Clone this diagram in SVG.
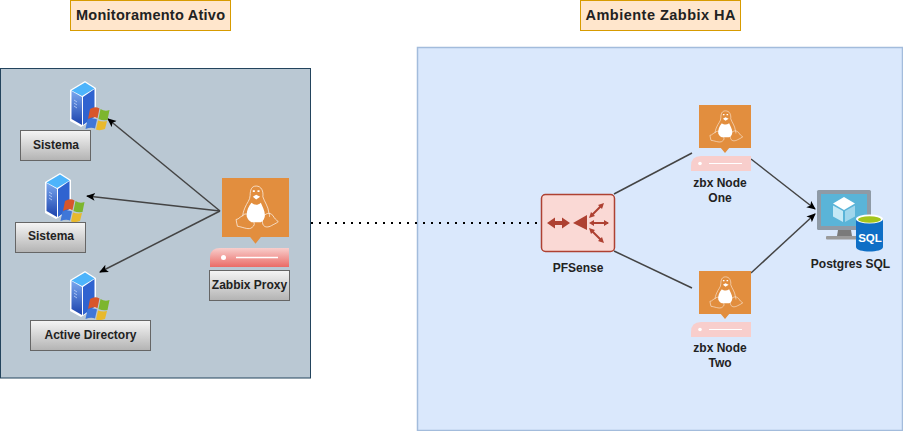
<svg xmlns="http://www.w3.org/2000/svg" xmlns:xlink="http://www.w3.org/1999/xlink" width="903" height="431" viewBox="0 0 903 431">
<style>
text{font-family:"Liberation Sans",Arial,sans-serif;font-weight:bold;font-size:12px;fill:#222;text-anchor:middle}
.title{font-size:14.500px}
.tbox{fill:#ffe6cc;stroke:#d79b00}
.btn{fill:url(#gBtn);stroke:#666}
.conn{fill:none;stroke:#444;stroke-width:1.500}
.arrow{marker-end:url(#arr)}
.tuxline{fill:none;stroke:#fff;stroke-width:1}
</style>
<defs>
<linearGradient id="gBtn" x1="0" y1="0" x2="0" y2="1"><stop offset="0" stop-color="#f5f5f5"/><stop offset="1" stop-color="#b3b3b3"/></linearGradient>
<linearGradient id="gRed" x1="0" y1="0" x2="0" y2="1"><stop offset="0" stop-color="#f8cecc"/><stop offset="1" stop-color="#ea6b66"/></linearGradient>
<linearGradient id="gSrv" x1="0" y1="0" x2="0" y2="1"><stop offset="0" stop-color="#7aa7ee"/><stop offset="1" stop-color="#1c43ad"/></linearGradient>
<marker id="arr" markerWidth="10" markerHeight="10" refX="8" refY="4" orient="auto" markerUnits="userSpaceOnUse"><path d="M0 0L9 4L0 8L2.200 4Z" fill="#000"/></marker>
<g id="srv">
<path d="M0 9L15 0L26 7V37L11 46L0 40Z" fill="#fff"/>
<path d="M1.500 10L12 16V44L1.500 38Z" fill="url(#gSrv)"/>
<path d="M13 16L24.500 8V36L13 44Z" fill="#2f63d0"/>
<path d="M1.500 9.500L15 1.500L24.500 7.500L12 15Z" fill="#4db4fb"/>
<path d="M4 19l3 2M4 22l3 2M4 25l3 2" stroke="#cfe0ff" stroke-width="0.700"/>
<path d="M20 28Q25 25 29.500 27.500L27.500 37Q23 35 18 38Z" fill="#d8562b"/>
<path d="M30.500 28Q35 31 39.500 29L37.500 39Q33 40 28.500 38Z" fill="#7db62e"/>
<path d="M17.500 38.500Q23 36 27 38.500L25 47.500Q21 46 15.500 48Z" fill="#3f77d8"/>
<path d="M28 39.500Q33 41 37 40L35 48Q30 50 26 48.500Z" fill="#e8b92c"/>
</g>
<g id="tux">
<path d="M0 0H100V88H58L50 98L42 88H0Z" fill="#e28e3e"/>
<path d="M51 12C44 12 42 18 42 26C42 33 37 37 34 45C32 50 31 54 31 57M61 28C62 20 59 12 51 12M61 28C63 35 69 42 70 52C71 55 71 57 71 58" class="tuxline"/>
<path d="M31 56C28 57 26 60 24 61L21 62C21 66 23 69 23 72C30 73 38 77 43 75C46 73 49 71 48 67C46 63 42 57 38 54C35 53 33 54 31 56Z" class="tuxline"/>
<path d="M62 58C60 62 60 66 61 69C63 74 69 74 74 71C77 69 81 68 84 65C81 63 78 60 76 56C73 53 70 52 68 53C65 54 63 55 62 58Z" class="tuxline"/>
<path d="M44 37C39 43 36 51 37 58C39 63 41 64 44 66H58C62 64 64 60 64 55C64 49 60 42 58 37C53 41 49 41 44 37Z" fill="#fff"/>
<path d="M46 28L51 32L57 28L51 25Z" fill="#fff"/>
<path d="M46 19.500h3M53 19.500h3" stroke="#fff" stroke-width="2.500"/>
</g>
</defs>

<g id="panel-left"><rect x="0.500" y="68.500" width="310" height="309.500" fill="#bac8d3" stroke="#23445d"/></g>
<g id="panel-right"><rect x="417.500" y="47.500" width="485" height="383" fill="#dae8fc" stroke="#a3bcdc" stroke-width="1.500"/></g>

<g id="title-left"><rect class="tbox" x="70.500" y="0.500" width="160" height="30"/><text class="title" x="150.500" y="20" textLength="149" lengthAdjust="spacing">Monitoramento Ativo</text></g>
<g id="title-right"><rect class="tbox" x="580.500" y="0.500" width="160" height="30"/><text class="title" x="660.500" y="20" textLength="150" lengthAdjust="spacing">Ambiente Zabbix HA</text></g>

<g id="connectors">
<path class="conn arrow" d="M220 211L108 119"/>
<path class="conn arrow" d="M220 211L87 196"/>
<path class="conn arrow" d="M220 211L100 272"/>
<path d="M311 223H541" fill="none" stroke="#000" stroke-width="2" stroke-dasharray="2 6"/>
<path class="conn" d="M614 194L692 153"/>
<path class="conn" d="M614 251L692 288"/>
<path class="conn arrow" d="M751 159L815 209"/>
<path class="conn arrow" d="M751 273L815 214"/>
</g>

<g id="server-1"><use xlink:href="#srv" href="#srv" x="70" y="81"/><rect class="btn" x="20.500" y="130.500" width="70" height="30"/><text x="56" y="149">Sistema</text></g>
<g id="server-2"><use xlink:href="#srv" href="#srv" x="45" y="173"/><rect class="btn" x="15.500" y="222.500" width="70" height="30"/><text x="51" y="240">Sistema</text></g>
<g id="server-3"><use xlink:href="#srv" href="#srv" x="70" y="271"/><rect class="btn" x="30.500" y="320.500" width="120" height="30"/><text x="90.500" y="339">Active Directory</text></g>

<g id="zabbix-proxy">
<use xlink:href="#tux" href="#tux" transform="translate(222 178) scale(.67)"/>
<path d="M210 267V258Q210 248 220 248H289V267Z" fill="url(#gRed)"/>
<circle cx="223.500" cy="257.500" r="2.500" fill="#fff"/><path d="M236 257.500H278" stroke="#fff" stroke-width="1.500"/>
<rect class="btn" x="209.500" y="270.500" width="80" height="30"/><text x="249.500" y="289">Zabbix Proxy</text>
</g>

<g id="pfsense">
<rect x="541.500" y="194.500" width="73" height="57" rx="4" fill="#fad9d5" stroke="#ae4132" stroke-width="1.500"/>
<path d="M547 223L555 217.500V221H562V217.500L570 223L562 228.500V225H555V228.500Z" fill="#ae4132"/>
<path d="M573 223L587 215V230Z" fill="#ae4132"/>
<path d="M592 215L602 205M592 223H608M592 231L602 241" stroke="#ae4132" stroke-width="2" fill="none"/>
<path d="M604 203L598 205L602 209ZM589 218L595 216L591 212ZM609 223L604 220V226ZM589 223L594 220V226ZM604 243L602 237L598 241ZM589 228L591 234L595 230Z" fill="#ae4132"/>
<text x="578" y="272">PFSense</text>
</g>

<g id="zbx-node-one">
<use xlink:href="#tux" href="#tux" transform="translate(699 105) scale(.52 .49)"/>
<path d="M691 171V166Q691 156 701 156H751V171Z" fill="#f8cecc"/>
<circle cx="700" cy="163.500" r="1.800" fill="#fff"/><path d="M709 163.500H742" stroke="#fff" stroke-width="1.200"/>
<text x="720" y="187">zbx Node</text><text x="720" y="202">One</text>
</g>

<g id="zbx-node-two">
<use xlink:href="#tux" href="#tux" transform="translate(699 271) scale(.52 .49)"/>
<path d="M691 337V332Q691 322 701 322H751V337Z" fill="#f8cecc"/>
<circle cx="700" cy="329.500" r="1.800" fill="#fff"/><path d="M709 329.500H742" stroke="#fff" stroke-width="1.200"/>
<text x="720" y="352">zbx Node</text><text x="720" y="367">Two</text>
</g>

<g id="postgres">
<rect x="817" y="190" width="54" height="40" rx="1.500" fill="#8e9aa6"/>
<rect x="821" y="194" width="46" height="32" fill="#5ab4d8"/>
<path d="M838 230H851L852 236H837Z" fill="#7a7a7a"/><rect x="826" y="236" width="36" height="3.500" rx="1" fill="#9a9a9a"/>
<path d="M844 197L855 203.500L844 210L833 203.500Z" fill="#fff"/>
<path d="M833 205.500L843 211V222L833 216.500Z" fill="#c5e9f6"/><path d="M845 211L855 205.500V216.500L845 222Z" fill="#a0d6ec"/>
<path d="M856 219V247C856 253 883 253 883 247V219Z" fill="#0f6fc6"/>
<ellipse cx="869.500" cy="219" rx="13.500" ry="4.500" fill="#fff"/><ellipse cx="869.500" cy="219.500" rx="11.500" ry="3.300" fill="#a4c51c"/>
<text x="870" y="242" style="fill:#fff;font-size:11.500px">SQL</text>
<text x="850.500" y="268">Postgres SQL</text>
</g>
</svg>
